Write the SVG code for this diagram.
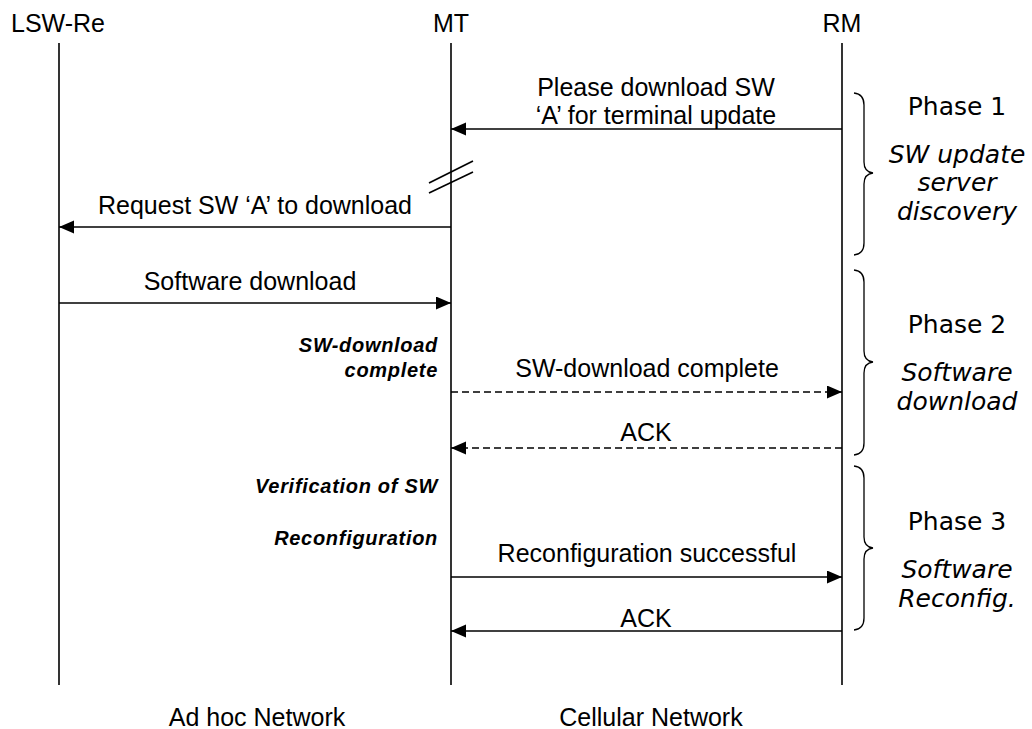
<svg xmlns="http://www.w3.org/2000/svg" width="1032" height="729" viewBox="0 0 1032 729">
<style>
.t{font-family:"Liberation Sans",Arial,sans-serif;font-size:25px;fill:#000}
.c{text-anchor:middle}
.bi{font-family:"Liberation Sans",Arial,sans-serif;font-size:20px;font-weight:bold;font-style:italic;text-anchor:end;letter-spacing:0.7px;fill:#000}
.ph{font-family:"DejaVu Sans",Verdana,sans-serif;font-size:25px;text-anchor:middle;fill:#000}
.phi{font-family:"DejaVu Sans",Verdana,sans-serif;font-size:25px;font-style:italic;text-anchor:middle;fill:#000}
.net{font-family:"Liberation Sans",Arial,sans-serif;font-size:25px;text-anchor:middle;fill:#000}
.life{stroke:#000;stroke-width:1.6;fill:none}
.msg{stroke:#000;stroke-width:1.5;fill:none;marker-end:url(#ah)}
.dash{stroke-dasharray:7 4}
.brace{stroke:#000;stroke-width:1.3;fill:none}
</style>
<defs>
<marker id="ah" markerUnits="userSpaceOnUse" markerWidth="16" markerHeight="14" refX="15" refY="6.5" orient="auto">
<path d="M0,0 L15,6.5 L0,13 z" fill="#000"/>
</marker>
</defs>
<g id="lsw-re">
<text class="t c" x="58" y="32">LSW-Re</text>
<line class="life" x1="59" y1="43" x2="59" y2="685"/>
</g>
<g id="mt">
<text class="t c" x="451" y="32">MT</text>
<line class="life" x1="451" y1="43" x2="451" y2="685"/>
</g>
<g id="rm">
<text class="t c" x="842" y="32">RM</text>
<line class="life" x1="842" y1="43" x2="842" y2="685"/>
</g>
<g id="connectors">
<line class="msg" x1="842" y1="129" x2="451" y2="129"/>
<line class="msg" x1="451" y1="227" x2="59" y2="227"/>
<line class="msg" x1="59" y1="303" x2="451" y2="303"/>
<line class="msg dash" x1="451" y1="392" x2="842" y2="392"/>
<line class="msg dash" x1="842" y1="448" x2="451" y2="448"/>
<line class="msg" x1="451" y1="577" x2="842" y2="577"/>
<line class="msg" x1="842" y1="631" x2="451" y2="631"/>
<line class="life" x1="429" y1="183" x2="473" y2="161"/>
<line class="life" x1="429" y1="193" x2="473" y2="172"/>
</g>
<g id="labels">
<text class="t c" x="656" y="96">Please download SW</text>
<text class="t c" x="656" y="124">‘A’ for terminal update</text>
<text class="t c" x="255" y="214">Request SW ‘A’ to download</text>
<text class="t c" x="250" y="290">Software download</text>
<text class="t c" x="647" y="377">SW-download complete</text>
<text class="t c" x="646" y="441">ACK</text>
<text class="t c" x="647" y="562">Reconfiguration successful</text>
<text class="t c" x="646" y="627">ACK</text>
<text class="bi" x="438" y="352">SW-download</text>
<text class="bi" x="438" y="377">complete</text>
<text class="bi" x="438" y="493">Verification of SW</text>
<text class="bi" x="438" y="545">Reconfiguration</text>
</g>
<g id="phase1">
<path class="brace" d="M854,93 Q864,94 864,105 L864,162 Q864,172 873,173 Q864,174 864,184 L864,243 Q864,254 854,255"/>
<text class="ph" x="957" y="115">Phase 1</text>
<text class="phi" x="957" y="163">SW update</text>
<text class="phi" x="957" y="191">server</text>
<text class="phi" x="957" y="220">discovery</text>
</g>
<g id="phase2">
<path class="brace" d="M854,270 Q864,271 864,282 L864,351 Q864,361 873,362 Q864,363 864,373 L864,443 Q864,454 854,455"/>
<text class="ph" x="957" y="333">Phase 2</text>
<text class="phi" x="957" y="381">Software</text>
<text class="phi" x="957" y="410">download</text>
</g>
<g id="phase3">
<path class="brace" d="M854,466 Q864,467 864,478 L864,537 Q864,547 873,548 Q864,549 864,559 L864,618 Q864,629 854,630"/>
<text class="ph" x="957" y="530">Phase 3</text>
<text class="phi" x="957" y="578">Software</text>
<text class="phi" x="957" y="607">Reconfig.</text>
</g>
<g id="networks">
<text class="net" x="257" y="726">Ad hoc Network</text>
<text class="net" x="651" y="726">Cellular Network</text>
</g>
</svg>
